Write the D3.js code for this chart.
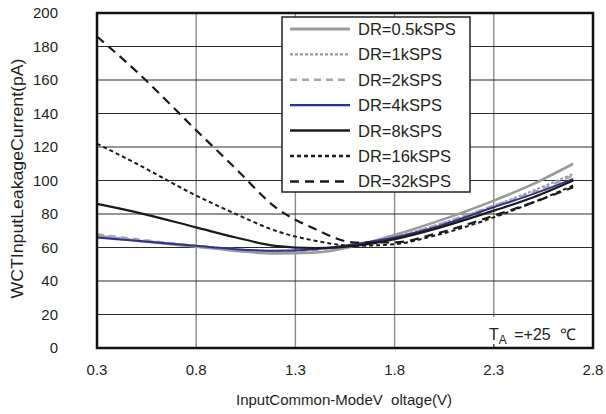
<!DOCTYPE html>
<html><head><meta charset="utf-8">
<script src="https://cdn.jsdelivr.net/npm/d3@7"></script>
<style>
body{margin:0;background:#fff;}
text{font-family:"Liberation Sans",Arial,sans-serif;fill:#231f20;white-space:pre;}
</style></head>
<body><svg id="c" width="606" height="414"></svg>
<script>
const xVals = [0.3,0.5,0.8,1.0,1.2,1.4,1.6,1.8,2.0,2.3,2.5,2.7];
const dr05  = [67,64,60.5,58,56.5,57,61,67.5,75,88,98,110];
const dr1   = [67,64.5,61,59,58,59,62,66.5,73,85,94,104];
const dr2   = [68,65,61,59,57.5,58.5,62,66,73,85,93,103];
const dr4   = [66,64,61,59,58,59,62,66,72,84,92,101];
const dr8   = [86,81,72,66,61,59.7,61,65,71,82,90,100];
const dr16  = [122,110,91,80,70,64,61,62,67,78,87,97];
const dr32  = [186,165,130,107,84,71,63,63,68,79,87,96];
const seriesNames = ["DR=0.5kSPS","DR=1kSPS","DR=2kSPS","DR=4kSPS","DR=8kSPS","DR=16kSPS","DR=32kSPS"];
const xTicks = [0.3,0.8,1.3,1.8,2.3,2.8];
const yTicks = [0,20,40,60,80,100,120,140,160,180,200];

const styles = [
  {c:"#9a9a9a", w:2.6, d:null},
  {c:"#9a9a9a", w:2, d:"3,2"},
  {c:"#a8a8a8", w:2.2, d:"7,5"},
  {c:"#2e3192", w:2, d:null},
  {c:"#1a1a1a", w:2.2, d:null},
  {c:"#1a1a1a", w:2, d:"4,3"},
  {c:"#1a1a1a", w:2.2, d:"9,6"}
];
const allData = [dr05,dr1,dr2,dr4,dr8,dr16,dr32];

const svg = d3.select("#c");
const L=97,R=593,T=13,B=348;
const x = d3.scaleLinear().domain([0.3,2.8]).range([L,R]);
const y = d3.scaleLinear().domain([0,200]).range([B,T]);

// grid
svg.append("g").selectAll("line").data(xTicks).join("line")
  .attr("x1",d=>x(d)).attr("x2",d=>x(d)).attr("y1",T).attr("y2",B)
  .attr("stroke","#8a8a8a").attr("stroke-width",1.4);
svg.append("g").selectAll("line").data(yTicks).join("line")
  .attr("x1",L).attr("x2",R).attr("y1",d=>y(d)).attr("y2",d=>y(d))
  .attr("stroke","#2a2a2a").attr("stroke-width",1);

// curves
const line = d3.line().x(d=>x(d[0])).y(d=>y(d[1])).curve(d3.curveMonotoneX);
allData.forEach((vals,i)=>{
  svg.append("path").datum(xVals.map((v,j)=>[v,vals[j]]))
    .attr("d",line).attr("fill","none")
    .attr("stroke",styles[i].c).attr("stroke-width",styles[i].w)
    .attr("stroke-dasharray",styles[i].d);
});

// T_A label box
svg.append("rect").attr("x",485).attr("y",317).attr("width",R-486).attr("height",B-319).attr("fill","#fff");
svg.append("line").attr("x1",x(2.3)).attr("x2",x(2.3)).attr("y1",B-4).attr("y2",B).attr("stroke","#222").attr("stroke-width",1.2);
const ta = svg.append("text").attr("x",489).attr("y",340).attr("font-size",16);
ta.append("tspan").text("T");
ta.append("tspan").attr("font-size",12).attr("dy",4).text("A");
ta.append("tspan").attr("dy",-4).attr("dx",3).text(" =+25  \u2103");

// border
svg.append("rect").attr("x",L).attr("y",T).attr("width",R-L).attr("height",B-T)
  .attr("fill","none").attr("stroke","#111").attr("stroke-width",2.5);

// axes labels
svg.append("g").selectAll("text").data(yTicks).join("text")
  .attr("x",L-39).attr("y",d=>y(d)+5).attr("text-anchor","end").attr("font-size",15).text(d=>d);
svg.append("g").selectAll("text").data(xTicks).join("text")
  .attr("x",d=>x(d)).attr("y",B+27).attr("text-anchor","middle").attr("font-size",15).text(d=>d.toFixed(1));

svg.append("text").attr("x",344).attr("y",B+57).attr("text-anchor","middle").attr("font-size",15)
  .attr("textLength",216).attr("lengthAdjust","spacingAndGlyphs").text("InputCommon-ModeV  oltage(V)");
svg.append("text").attr("transform",`translate(23,${(T+B)/2-2}) rotate(-90)`).attr("text-anchor","middle")
  .attr("font-size",16).attr("textLength",240).attr("lengthAdjust","spacingAndGlyphs").text("WCTInputLeakageCurrent(pA)");

// legend
const lg = svg.append("g");
lg.append("rect").attr("x",282).attr("y",17).attr("width",188).attr("height",175)
  .attr("fill","#fff").attr("stroke","#222").attr("stroke-width",1.5);
seriesNames.forEach((n,i)=>{
  const yy = 29 + i*25.4;
  lg.append("line").attr("x1",290).attr("x2",350).attr("y1",yy).attr("y2",yy)
    .attr("stroke",styles[i].c).attr("stroke-width",styles[i].w+0.3).attr("stroke-dasharray",styles[i].d);
  lg.append("text").attr("x",358).attr("y",yy+6).attr("font-size",16.5).text(n);
});
</script></body></html>
